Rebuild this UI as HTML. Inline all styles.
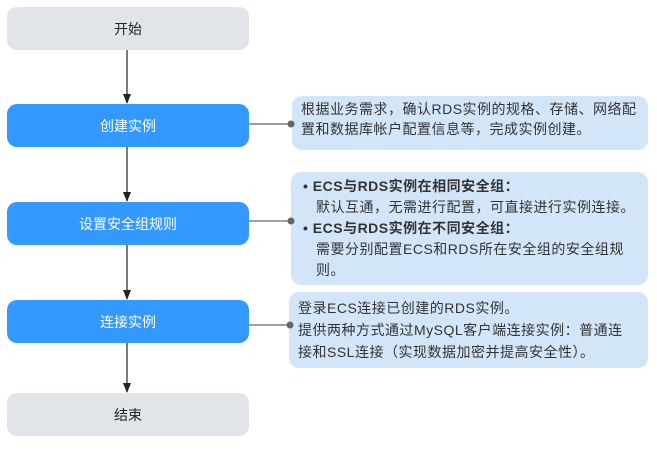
<!DOCTYPE html>
<html><head><meta charset="utf-8"><style>
body{margin:0;background:#fff;width:657px;height:449px;overflow:hidden;position:relative;font-family:"Liberation Sans","Noto Sans CJK SC",sans-serif}
.b{position:absolute;left:7px;width:242px;height:43px;border-radius:10px;display:flex;align-items:center;justify-content:center;font-size:14px}
.g{background:#e1e4e8;color:#222}
.u{background:#3399ff;color:#fff}
.c{position:absolute;background:#d3e6f9;border-radius:10px;font-size:14px;line-height:21px;color:#333;white-space:nowrap;letter-spacing:0.5px}
svg{position:absolute;left:0;top:0}
</style></head><body>
<svg width="657" height="449">
<defs><marker id="a" markerWidth="10" markerHeight="8" refX="9" refY="4" orient="auto" markerUnits="userSpaceOnUse"><path d="M0,0 L10,4 L0,8 Z" fill="#222"/></marker></defs>
<g stroke="#222" stroke-width="1.2">
<line x1="127" y1="50" x2="127" y2="103" marker-end="url(#a)"/>
<line x1="127" y1="147" x2="127" y2="201" marker-end="url(#a)"/>
<line x1="127" y1="245" x2="127" y2="299" marker-end="url(#a)"/>
<line x1="127" y1="343" x2="127" y2="392" marker-end="url(#a)"/>
</g>
<g stroke="#666" stroke-width="1.2">
<line x1="249" y1="124" x2="291" y2="124"/>
<line x1="249" y1="221" x2="291" y2="221"/>
<line x1="249" y1="325" x2="290" y2="325"/>
</g>
</svg>
<div class="b g" style="top:7px">开始</div>
<div class="b u" style="top:104px">创建实例</div>
<div class="b u" style="top:202px">设置安全组规则</div>
<div class="b u" style="top:300px">连接实例</div>
<div class="b g" style="top:393px">结束</div>
<div class="c" style="left:292px;top:96px;width:356px;height:54px;padding:3px 0 0 9px;box-sizing:border-box;line-height:20px">根据业务需求，确认RDS实例的规格、存储、网络配<br>置和数据库帐户配置信息等，完成实例创建。</div>
<div class="c" style="left:291px;top:172px;width:357px;height:113px;padding:4px 0 0 12px;box-sizing:border-box">
<div><b>• ECS与RDS实例在相同安全组：</b></div>
<div style="padding-left:13px">默认互通，无需进行配置，可直接进行实例连接。</div>
<div><b>• ECS与RDS实例在不同安全组：</b></div>
<div style="padding-left:13px">需要分别配置ECS和RDS所在安全组的安全组规<br>则。</div>
</div>
<div class="c" style="left:289px;top:292px;width:359px;height:76px;padding:5px 0 0 9px;box-sizing:border-box;line-height:22px">登录ECS连接已创建的RDS实例。<br>提供两种方式通过MySQL客户端连接实例：普通连<br>接和SSL连接（实现数据加密并提高安全性）。</div>
<svg width="657" height="449"><g fill="#666"><circle cx="291" cy="124" r="3.5"/><circle cx="291" cy="221" r="3.5"/><circle cx="290" cy="325" r="3.5"/></g></svg>
</body></html>
